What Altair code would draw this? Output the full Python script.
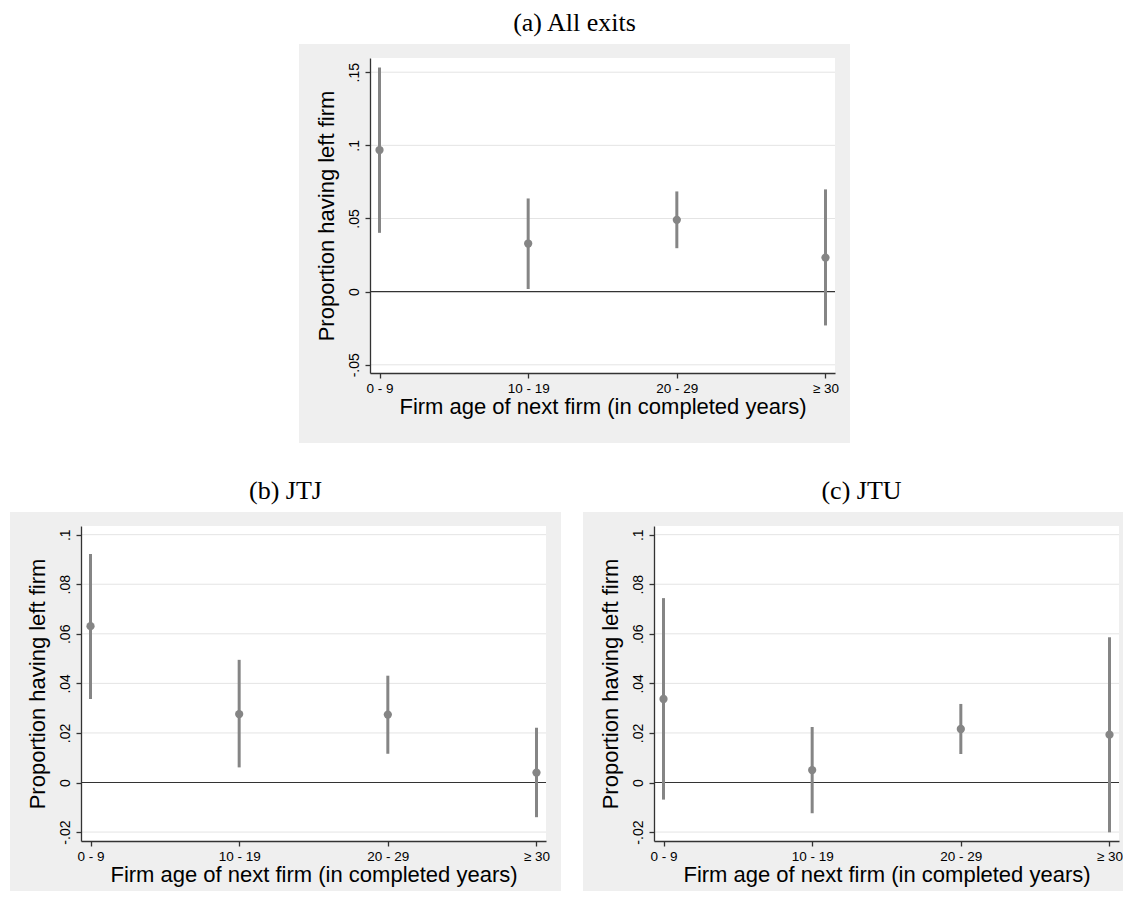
import altair as alt
import pandas as pd

# ---------------- data ----------------
categories = ["0 - 9", "10 - 19", "20 - 29", "≥ 30"]

est_a = [0.0968, 0.0329, 0.0491, 0.0233]
lo_a = [0.0402, 0.0018, 0.0297, -0.0231]
hi_a = [0.1532, 0.0637, 0.0685, 0.0699]

est_b = [0.0631, 0.0276, 0.0274, 0.0040]
lo_b = [0.0337, 0.0061, 0.0116, -0.0140]
hi_b = [0.0922, 0.0495, 0.0431, 0.0221]

est_c = [0.0337, 0.0050, 0.0216, 0.0193]
lo_c = [-0.0069, -0.0124, 0.0115, -0.0201]
hi_c = [0.0744, 0.0224, 0.0317, 0.0586]

yticks_a = [-0.05, 0, 0.05, 0.1, 0.15]
yticks_bc = [-0.02, 0, 0.02, 0.04, 0.06, 0.08, 0.1]
ydom_a = [-0.0556, 0.1597]
ydom_bc = [-0.0236, 0.1035]

titles = ["(a) All exits", "(b) JTJ", "(c) JTU"]
x_title = "Firm age of next firm (in completed years)"
y_title = "Proportion having left firm"

# ---------------- style ----------------
W, H = 465, 315
GREY = "#efefef"
DOT = "#858585"
AXC = "#333333"
SANS = "Liberation Sans"


def panel(title, est, lo, hi, yticks, ydom, left_ext=71, right_ext=15,
          bottom_ext=70, title_dx=-28):
    df = pd.DataFrame({"cat": categories, "est": est, "lo": lo, "hi": hi})
    xs = alt.Scale(type="point", domain=categories, padding=0.064)
    ys = alt.Scale(domain=ydom, nice=False, zero=False)
    xax = alt.Axis(title=x_title, labelAngle=0, labelFontSize=13.5, labelFont=SANS,
                   labelColor="black", titleFont=SANS, titleFontSize=22,
                   titleFontWeight="normal", titleColor="black", tickSize=5,
                   labelPadding=3, titlePadding=2, domainColor=AXC, tickColor=AXC,
                   domainWidth=1.3, tickWidth=1.3, grid=False, zindex=1)
    yax = alt.Axis(title=y_title, values=yticks, labelAngle=270, labelAlign="center",
                   labelBaseline="bottom",
                   labelExpr="replace('' + datum.value, '0.', '.')",
                   labelFontSize=14, labelFont=SANS, labelColor="black",
                   titleFont=SANS, titleFontSize=22, titleFontWeight="normal",
                   titleColor="black", tickSize=5, labelPadding=4, titlePadding=9,
                   domainColor=AXC, tickColor=AXC, domainWidth=1.3, tickWidth=1.3,
                   grid=False, zindex=1)
    one = pd.DataFrame({"k": [0]})
    bg = alt.Chart(one).mark_rect(color=GREY).encode(
        x=alt.value(-left_ext), x2=alt.value(W + right_ext),
        y=alt.value(-14), y2=alt.value(H + bottom_ext))
    white = alt.Chart(one).mark_rect(color="white").encode(
        x=alt.value(0), x2=alt.value(W), y=alt.value(0), y2=alt.value(H))
    grid = alt.Chart(pd.DataFrame({"v": [t for t in yticks if t != 0]})).mark_rule(
        color="#e4e4e4", strokeWidth=1).encode(y=alt.Y("v:Q", scale=ys, axis=yax))
    zero = alt.Chart(pd.DataFrame({"v": [0]})).mark_rule(
        color="#333333", strokeWidth=1.2).encode(y=alt.Y("v:Q", scale=ys, axis=yax))
    bars = alt.Chart(df).mark_rule(color=DOT, strokeWidth=3).encode(
        x=alt.X("cat:N", scale=xs, axis=xax, sort=categories),
        y=alt.Y("lo:Q", scale=ys, axis=yax), y2="hi:Q")
    pts = alt.Chart(df).mark_circle(color=DOT, size=68, opacity=1).encode(
        x=alt.X("cat:N", scale=xs, axis=xax, sort=categories),
        y=alt.Y("est:Q", scale=ys, axis=yax))
    return alt.layer(bg, white, grid, zero, bars, pts).properties(
        width=W, height=H,
        title=alt.TitleParams(title, font="Liberation Serif", fontSize=26,
                              fontWeight="normal", color="black", anchor="middle",
                              frame="group", dx=title_dx, offset=-13,
                              baseline="alphabetic"))


pa = panel(titles[0], est_a, lo_a, hi_a, yticks_a, ydom_a)
pb = panel(titles[1], est_b, lo_b, hi_b, yticks_bc, ydom_bc, bottom_ext=50)
pc = panel(titles[2], est_c, lo_c, hi_c, yticks_bc, ydom_bc, right_ext=4,
           bottom_ext=50, title_dx=-25)

# empty spacer view that pushes panel (a) to its place above the lower row
spacer = alt.Chart(pd.DataFrame({"k": [0]})).mark_point(opacity=0).properties(
    width=218, height=10)

top = alt.hconcat(spacer, pa, spacing=0)
bottom = alt.hconcat(pb, pc, spacing=22)
chart = alt.vconcat(top, bottom, spacing=35).properties(
    padding={"left": 2, "top": 2, "right": 0, "bottom": 0},
    background="white",
).configure_view(stroke=None)

chart.save("out.html", embed_options={"renderer": "svg", "actions": False})
